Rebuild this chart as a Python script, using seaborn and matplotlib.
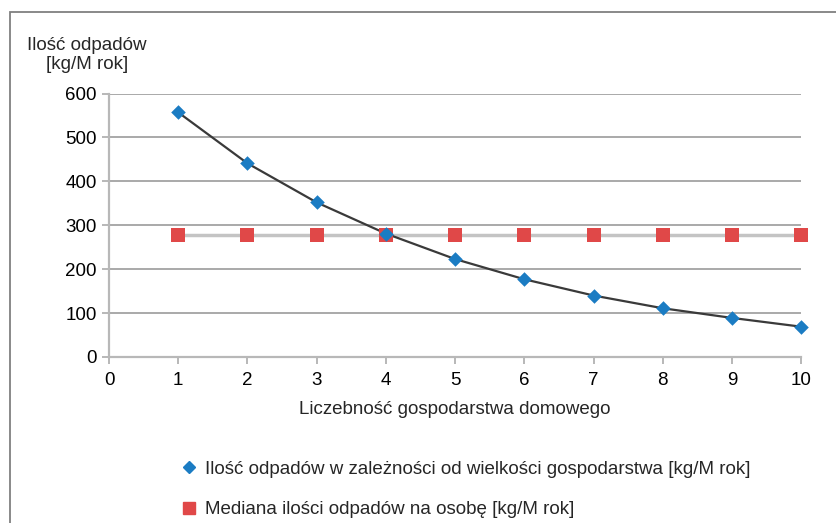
import matplotlib.patches as mpatches
import pandas as pd
import seaborn as sns
from matplotlib import pyplot as plt
from matplotlib.lines import Line2D

household_size = [1, 2, 3, 4, 5, 6, 7, 8, 9, 10]
waste_by_size = [557, 441, 352, 281, 223, 177, 140, 111, 89, 69]
median_waste = [278, 278, 278, 278, 278, 278, 278, 278, 278, 278]
x_ticks = [0, 1, 2, 3, 4, 5, 6, 7, 8, 9, 10]
y_ticks = [0, 100, 200, 300, 400, 500, 600]

label_waste = "Ilość odpadów w zależności od wielkości gospodarstwa [kg/M rok]"
label_median = "Mediana ilości odpadów na osobę [kg/M rok]"

BLUE = "#1b7cc3"
RED = "#e04848"
GRID = "#a9a9a9"
AXIS = "#b8b8b8"
FS = 13.5


def main() -> None:
    sns.set_theme(style="white")
    plt.rcParams["font.family"] = ["Liberation Sans", "DejaVu Sans"]

    df = pd.DataFrame(
        {"size": household_size, "waste": waste_by_size, "median": median_waste}
    )

    fig = plt.figure(figsize=(8.36, 5.23), dpi=100)
    ax = fig.add_axes([0.1304, 0.3174, 0.828, 0.5038])

    # outer chart frame, cut off at right and bottom like the source
    frame = mpatches.Rectangle(
        (10 / 836, -0.05), 1.2, 1 - 12 / 523 + 0.05,
        transform=fig.transFigure, fill=False, edgecolor="#808080", linewidth=1.3,
        zorder=0,
    )
    fig.patches.append(frame)

    for y in y_ticks[1:]:
        ax.axhline(y, color=GRID, linewidth=1.4, zorder=1)

    sns.lineplot(data=df, x="size", y="median", color="#c4c4c4", linewidth=2.5,
                 ax=ax, zorder=2)
    sns.lineplot(data=df, x="size", y="waste", color="#3a3a3a", linewidth=1.6,
                 ax=ax, zorder=3)
    sns.scatterplot(data=df, x="size", y="median", marker="s", s=110, color=RED,
                    edgecolor=RED, linewidth=0, ax=ax, zorder=4, clip_on=False)
    sns.scatterplot(data=df, x="size", y="waste", marker="D", s=55, color=BLUE,
                    edgecolor=BLUE, linewidth=0, ax=ax, zorder=5, clip_on=False)

    ax.set_xlim(0, 10)
    ax.set_ylim(0, 600)
    ax.set_xticks(x_ticks)
    ax.set_yticks(y_ticks)
    ax.set_xlabel("")
    ax.set_ylabel("")
    ax.tick_params(axis="both", labelsize=FS, colors=AXIS, labelcolor="black",
                   length=5, width=1.4, direction="out", bottom=True, left=True)
    ax.tick_params(axis="x", pad=6)
    ax.tick_params(axis="y", pad=4)
    for side in ("top", "right"):
        ax.spines[side].set_visible(False)
    for side in ("left", "bottom"):
        ax.spines[side].set_color(AXIS)
        ax.spines[side].set_linewidth(1.6)

    fig.text(87 / 836, 1 - 55 / 523, "Ilość odpadów\n[kg/M rok]", ha="center",
             va="center", fontsize=FS, multialignment="center", linespacing=1.15)
    fig.text(455 / 836, 1 - 409 / 523, "Liczebność gospodarstwa domowego",
             ha="center", va="center", fontsize=FS)

    handles = [
        Line2D([], [], marker="D", linestyle="none", color=BLUE, markersize=6.5),
        Line2D([], [], marker="s", linestyle="none", color=RED, markersize=8.5),
    ]
    fig.legend(handles, [label_waste, label_median], loc="upper left",
               bbox_to_anchor=(172 / 836, 1 - 453 / 523), frameon=False,
               fontsize=FS, labelspacing=1.25, handletextpad=0.35,
               handlelength=1.0, borderaxespad=0)

    fig.savefig("out.png", dpi=100)
    plt.close(fig)


if __name__ == "__main__":
    main()
